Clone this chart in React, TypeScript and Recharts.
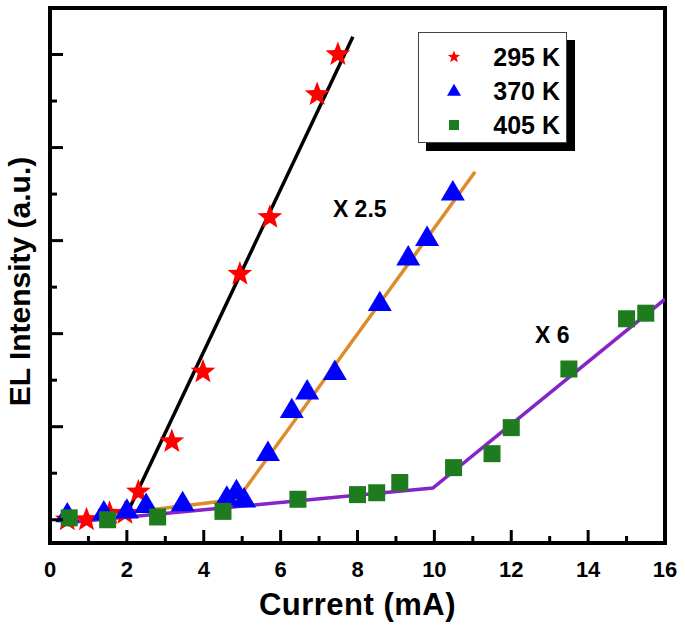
import {
  ComposedChart,
  Label,
  Legend,
  Line,
  ReferenceArea,
  ReferenceDot,
  Scatter,
  XAxis,
  YAxis,
} from "recharts"

// measured points, EL intensity in arbitrary units (major y tick = 1)
const stars295 = [
  { x: 0.45, y: 0.0 },
  { x: 0.95, y: 0.0 },
  { x: 1.55, y: 0.07 },
  { x: 1.95, y: 0.07 },
  { x: 2.3, y: 0.3 },
  { x: 3.17, y: 0.84 },
  { x: 3.98, y: 1.59 },
  { x: 4.94, y: 2.64 },
  { x: 5.72, y: 3.25 },
  { x: 6.95, y: 4.57 },
  { x: 7.49, y: 5.0 },
]

const triangles370 = [
  { x: 0.45, y: 0.06 },
  { x: 1.4, y: 0.08 },
  { x: 2.0, y: 0.1 },
  { x: 2.5, y: 0.16 },
  { x: 3.45, y: 0.18 },
  { x: 4.6, y: 0.24 },
  { x: 4.85, y: 0.31 },
  { x: 5.05, y: 0.22 },
  { x: 5.67, y: 0.72 },
  { x: 6.29, y: 1.18 },
  { x: 6.69, y: 1.38 },
  { x: 7.41, y: 1.59 },
  { x: 8.58, y: 2.33 },
  { x: 9.32, y: 2.82 },
  { x: 9.81, y: 3.03 },
  { x: 10.48, y: 3.52 },
]

const squares405 = [
  { x: 0.5, y: 0.02 },
  { x: 1.5, y: 0.0 },
  { x: 2.8, y: 0.03 },
  { x: 4.5, y: 0.09 },
  { x: 6.45, y: 0.22 },
  { x: 8.0, y: 0.27 },
  { x: 8.5, y: 0.29 },
  { x: 9.1, y: 0.4 },
  { x: 10.5, y: 0.56 },
  { x: 11.5, y: 0.71 },
  { x: 12.0, y: 0.99 },
  { x: 13.5, y: 1.62 },
  { x: 15.0, y: 2.16 },
  { x: 15.5, y: 2.22 },
]

// piecewise linear fits
const fit295 = [
  { x: 0.5, y: -0.01 },
  { x: 2.03, y: 0.09 },
  { x: 7.88, y: 5.19 },
]
const fit370 = [
  { x: 0.5, y: 0.0 },
  { x: 4.88, y: 0.22 },
  { x: 11.06, y: 3.74 },
]
const fit405 = [
  { x: 0.5, y: -0.03 },
  { x: 9.96, y: 0.34 },
  { x: 16, y: 2.37 },
]

const xTicks = [0, 1, 2, 3, 4, 5, 6, 7, 8, 9, 10, 11, 12, 13, 14, 15, 16]
const yTicks = [0, 0.5, 1, 1.5, 2, 2.5, 3, 3.5, 4, 4.5, 5]
const xDomain = [0, 16]
const yDomain = [-0.25, 5.5]

const annotations = [
  { x: 7.36, y: 3.25, text: "X 2.5" },
  { x: 12.62, y: 1.9, text: "X 6" },
]

const FONT = "'Liberation Sans', Arial, Helvetica, sans-serif"
const RED = "#ff0000"
const BLUE = "#0000ff"
const GREEN = "#1e7b1e"

function starPath(cx: number, cy: number, R: number, r: number) {
  let d = ""
  for (let i = 0; i < 10; i++) {
    const rad = i % 2 === 0 ? R : r
    const a = -Math.PI / 2 + (i * Math.PI) / 5
    d += (i === 0 ? "M" : "L") + (cx + rad * Math.cos(a)).toFixed(2) + "," + (cy + rad * Math.sin(a)).toFixed(2)
  }
  return d + "Z"
}

function Star({ cx, cy, rad = 13 }: any) {
  return <path d={starPath(cx, cy, rad, rad * 0.42)} fill={RED} />
}

function Triangle({ cx, cy, rad = 12 }: any) {
  const h = rad * 1.7
  return (
    <path
      d={`M${cx},${cy - h * 0.6}L${cx + rad},${cy + h * 0.4}L${cx - rad},${cy + h * 0.4}Z`}
      fill={BLUE}
    />
  )
}

function Square({ cx, cy, rad = 8.5 }: any) {
  return <rect x={cx - rad} y={cy - rad} width={rad * 2} height={rad * 2} fill={GREEN} />
}

const legendItems = [
  { name: "295 K", Shape: Star, rad: 6.5 },
  { name: "370 K", Shape: Triangle, rad: 7 },
  { name: "405 K", Shape: Square, rad: 5 },
]

function LegendBox() {
  return (
    <div
      style={{
        width: 149,
        height: 111,
        boxSizing: "border-box",
        border: "1px solid #444",
        background: "#fff",
        boxShadow: "8px 8px 0 #000",
        paddingTop: 7,
        fontFamily: FONT,
        fontWeight: "bold",
        fontSize: 25,
      }}
    >
      {legendItems.map(({ name, Shape, rad }) => (
        <div key={name} style={{ height: 34, display: "flex", alignItems: "center" }}>
          <svg width={70} height={34} style={{ display: "block" }}>
            <Shape cx={35} cy={17} rad={rad} />
          </svg>
          <span style={{ flex: 1, textAlign: "right", paddingRight: 6, lineHeight: "34px" }}>{name}</span>
        </div>
      ))}
    </div>
  )
}

function XTick({ x, y, payload }: any) {
  const v = payload.value
  const major = v % 2 === 0
  return (
    <g>
      <line x1={x} x2={x} y1={y} y2={y - (major ? 13 : 7)} stroke="#000" strokeWidth={3} />
      {major && (
        <text x={x} y={y + 34} textAnchor="middle" fontSize={22} fontWeight="bold" fontFamily={FONT} fill="#000">
          {v}
        </text>
      )}
    </g>
  )
}

function YTick({ x, y, payload }: any) {
  const major = Number.isInteger(payload.value)
  return <line x1={x} x2={x + (major ? 13 : 7)} y1={y} y2={y} stroke="#000" strokeWidth={3} />
}

function XTitle({ viewBox }: any) {
  return (
    <text
      x={viewBox.x + viewBox.width / 2}
      y={viewBox.y + 72}
      textAnchor="middle"
      fontSize={31}
      fontWeight="bold"
      fontFamily={FONT}
      letterSpacing={0.5}
      fill="#000"
    >
      Current (mA)
    </text>
  )
}

function YTitle({ viewBox }: any) {
  const cx = viewBox.x + 30
  const cy = viewBox.y + viewBox.height / 2 + 6
  return (
    <text
      transform={`translate(${cx},${cy}) rotate(-90)`}
      textAnchor="middle"
      fontSize={30}
      fontWeight="bold"
      fontFamily={FONT}
      fill="#000"
    >
      EL Intensity (a.u.)
    </text>
  )
}

export default function App() {
  return (
    <div style={{ position: "absolute", left: 0, top: 0, width: 685, height: 627, background: "#fff" }}>
      <ComposedChart width={685} height={627} margin={{ top: 8, right: 20, bottom: 0, left: 0 }}>
        <XAxis
          dataKey="x"
          type="number"
          domain={xDomain}
          ticks={xTicks}
          interval={0}
          allowDataOverflow
          height={84}
          tickSize={0}
          tickMargin={0}
          tickLine={false}
          tick={<XTick />}
          axisLine={{ stroke: "#000", strokeWidth: 4 }}
        >
          <Label content={<XTitle />} />
        </XAxis>
        <YAxis
          type="number"
          domain={yDomain}
          ticks={yTicks}
          interval={0}
          allowDataOverflow
          width={50}
          tickSize={0}
          tickMargin={0}
          tickLine={false}
          tick={<YTick />}
          axisLine={{ stroke: "#000", strokeWidth: 4 }}
        >
          <Label content={<YTitle />} />
        </YAxis>

        <ReferenceArea
          x1={xDomain[0]}
          x2={xDomain[1]}
          y1={yDomain[0]}
          y2={yDomain[1]}
          fill="none"
          fillOpacity={0}
          stroke="#000"
          strokeWidth={4}
        />

        <Legend
          layout="horizontal"
          verticalAlign="middle"
          align="center"
          content={() => <LegendBox />}
          wrapperStyle={{ left: 418, top: 32, width: 149, height: 111 }}
        />

        <Scatter name="295 K" data={stars295} dataKey="y" shape={<Star />} isAnimationActive={false} legendType="none" />
        <Scatter name="370 K" data={triangles370} dataKey="y" shape={<Triangle />} isAnimationActive={false} legendType="none" />
        <Scatter name="405 K" data={squares405} dataKey="y" shape={<Square />} isAnimationActive={false} legendType="none" />

        <Line data={fit295} dataKey="y" type="linear" stroke="#000" strokeWidth={3.5} dot={false} activeDot={false} isAnimationActive={false} legendType="none" />
        <Line data={fit370} dataKey="y" type="linear" stroke="#dc8c28" strokeWidth={3.5} dot={false} activeDot={false} isAnimationActive={false} legendType="none" />
        <Line data={fit405} dataKey="y" type="linear" stroke="#8525c8" strokeWidth={3.5} dot={false} activeDot={false} isAnimationActive={false} legendType="none" />

        {annotations.map((a) => (
          <ReferenceDot
            key={a.text}
            x={a.x}
            y={a.y}
            r={0}
            shape={(p: any) => (
              <text x={p.cx} y={p.cy} fontSize={23} fontWeight="bold" fontFamily={FONT} fill="#000">
                {a.text}
              </text>
            )}
          />
        ))}
      </ComposedChart>
    </div>
  )
}
